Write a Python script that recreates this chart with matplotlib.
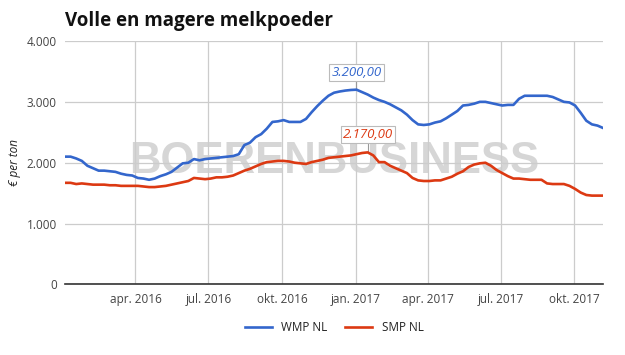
import numpy as np
import pandas as pd
import matplotlib
matplotlib.use("Agg")
import matplotlib.pyplot as plt
from matplotlib.ticker import FuncFormatter

# weekly quotations, starting 4 Jan 2016
start_date = "2016-01-04"
n_weeks = 97

wmp_nl = [2100, 2100, 2070, 2030, 1950, 1910, 1870, 1870, 1860, 1850,
          1820, 1800, 1790, 1750, 1740, 1720, 1740, 1780, 1810, 1850,
          1920, 1990, 2000, 2060, 2040, 2060, 2070, 2080, 2090, 2100,
          2110, 2140, 2290, 2330, 2420, 2470, 2560, 2670, 2680, 2700,
          2670, 2670, 2670, 2720, 2830, 2930, 3020, 3100, 3150, 3170,
          3185, 3195, 3200, 3160, 3120, 3070, 3030, 3000, 2960, 2910,
          2860, 2790, 2700, 2630, 2620, 2630, 2660, 2680, 2730, 2790,
          2850, 2940, 2950, 2970, 3000, 3000, 2980, 2960, 2940, 2950,
          2950, 3050, 3100, 3100, 3100, 3100, 3100, 3080, 3040, 3000,
          2990, 2940, 2820, 2690, 2630, 2610, 2570]

smp_nl = [1670, 1670, 1650, 1660, 1650, 1640, 1640, 1640, 1630, 1630,
          1620, 1620, 1620, 1620, 1610, 1600, 1600, 1610, 1620, 1640,
          1660, 1680, 1700, 1750, 1740, 1730, 1740, 1760, 1760, 1770,
          1790, 1830, 1870, 1900, 1940, 1980, 2010, 2020, 2030, 2030,
          2020, 2000, 1990, 1980, 2010, 2030, 2050, 2080, 2090, 2100,
          2110, 2120, 2140, 2160, 2170, 2120, 2010, 2010, 1950, 1910,
          1870, 1830, 1750, 1710, 1700, 1700, 1710, 1710, 1740, 1770,
          1820, 1860, 1930, 1970, 1990, 2000, 1950, 1880, 1830, 1780,
          1740, 1740, 1730, 1720, 1720, 1720, 1660, 1650, 1650, 1650,
          1620, 1570, 1510, 1470, 1460, 1460, 1460]

tick_dates = ["2016-04-01", "2016-07-01", "2016-10-01", "2017-01-01",
              "2017-04-01", "2017-07-01", "2017-10-01"]
tick_labels = ["apr. 2016", "jul. 2016", "okt. 2016", "jan. 2017",
               "apr. 2017", "jul. 2017", "okt. 2017"]

dates = pd.date_range(start_date, periods=n_weeks, freq="7D")

plt.rcParams['font.family'] = ['Open Sans', 'DejaVu Sans']

blue = "#3366cc"
red = "#dc3912"

fig = plt.figure(figsize=(6.25, 3.55), dpi=100)
ax = fig.add_axes([0.104, 0.1986, 0.861, 0.686])

ax.plot(dates, wmp_nl, color=blue, lw=1.9, label="WMP NL", zorder=3)
ax.plot(dates, smp_nl, color=red, lw=1.9, label="SMP NL", zorder=3)

ax.set_xlim(dates[0], dates[-1])
ax.set_ylim(0, 4000)
ax.set_yticks([0, 1000, 2000, 3000, 4000])
ax.yaxis.set_major_formatter(FuncFormatter(lambda v, p: f"{int(v):,}".replace(",", ".")))
ax.set_xticks(pd.to_datetime(tick_dates))
ax.set_xticklabels(tick_labels)

ax.grid(True, color="#cccccc", lw=0.9, zorder=0)
for s in ["top", "right", "left"]:
    ax.spines[s].set_visible(False)
ax.spines["bottom"].set_color("#333333")
ax.spines["bottom"].set_linewidth(1.2)
ax.tick_params(length=0, labelsize=8.5, colors="#444444", pad=6)
ax.tick_params(axis="y", pad=6)

ax.set_ylabel("€ per ton", fontsize=8.5, style="italic", color="#222222", labelpad=4)

# watermark
ax.text(0.5, 0.505, "BOERENBUSINESS", transform=ax.transAxes, fontsize=31.5,
        fontweight="bold", family="Liberation Sans", color="#d6d6d6",
        ha="center", va="center", zorder=1)

# max annotations
i_b = int(np.argmax(wmp_nl[:60]))
i_r = int(np.argmax(smp_nl[:60]))
for i, vals, col, off in [(i_b, wmp_nl, blue, 285), (i_r, smp_nl, red, 290)]:
    d = dates[i]
    v = vals[i]
    ax.plot([d, d], [v, v + off - 100], color="#999999", lw=0.8, zorder=2)
    ax.text(d, v + off, f"{v:,.2f}".replace(",", "X").replace(".", ",").replace("X", "."),
            color=col, fontsize=9.5, style="italic",
            ha="center", va="center", zorder=4,
            bbox=dict(boxstyle="square,pad=0.15", fc="white", ec="#bbbbbb", lw=0.8))

fig.text(0.104, 0.94, "Volle en magere melkpoeder", fontsize=13.5, fontweight="bold",
         color="#111111", ha="left", va="center")

fig.legend(loc="lower center", bbox_to_anchor=(0.5345, 0.03), ncol=2, frameon=False,
           fontsize=8.5, handlelength=2.3, columnspacing=1.5, labelcolor="#222222")

fig.savefig("out.png", dpi=100)
